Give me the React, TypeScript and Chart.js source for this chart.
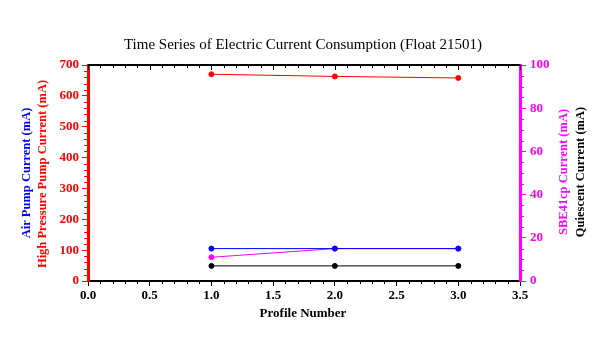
import React, { useEffect, useRef } from "react";
import { Chart, registerables } from "chart.js";
Chart.register(...registerables);

const profiles = [1, 2, 3];
const highPressurePump = [670, 663, 658];
const airPump = [105, 105, 105];
const sbe41cp = [11, 15, 15];
const quiescent = [7, 7, 7];

const FONT = "'Liberation Serif', 'DejaVu Serif', serif";

const framePlugin = {
  id: "frame",
  afterDraw(chart: any) {
    const { ctx, chartArea: a, scales } = chart;
    const x = scales.x, yl = scales.y, yr = scales.y2;
    ctx.save();
    ctx.strokeStyle = "#000";
    ctx.lineWidth = 2;
    ctx.beginPath();
    ctx.moveTo(a.left, a.top);
    ctx.lineTo(a.right, a.top);
    ctx.stroke();
    ctx.lineWidth = 1;
    for (let v = 0; v <= 3.5001; v += 0.1) {
      const px = Math.round(x.getPixelForValue(v)) + 0.5;
      const major = Math.abs(v * 2 - Math.round(v * 2)) < 1e-6;
      const len = major ? 5 : 3;
      ctx.beginPath();
      ctx.moveTo(px, a.top);
      ctx.lineTo(px, a.top + len);
      ctx.stroke();
      if (!major) {
        ctx.beginPath();
        ctx.moveTo(px, a.bottom);
        ctx.lineTo(px, a.bottom + 3);
        ctx.stroke();
      }
    }
    ctx.strokeStyle = "#ff0000";
    for (let v = 0; v <= 700; v += 20) {
      if (v % 100 === 0) continue;
      const py = Math.round(yl.getPixelForValue(v)) + 0.5;
      ctx.beginPath();
      ctx.moveTo(a.left - 1, py);
      ctx.lineTo(a.left - 4, py);
      ctx.stroke();
    }
    ctx.strokeStyle = "#ff00ff";
    for (let v = 0; v <= 100; v += 5) {
      if (v % 20 === 0) continue;
      const py = Math.round(yr.getPixelForValue(v)) + 0.5;
      ctx.beginPath();
      ctx.moveTo(a.right + 1, py);
      ctx.lineTo(a.right + 4, py);
      ctx.stroke();
    }
    ctx.fillStyle = "#000";
    ctx.textAlign = "center";
    ctx.textBaseline = "middle";
    ctx.font = `15px ${FONT}`;
    ctx.fillText("Time Series of Electric Current Consumption (Float 21501)", 303, 45);
    ctx.font = `bold 13px ${FONT}`;
    ctx.fillText("Profile Number", 303, 314);
    ctx.font = `bold 12.5px ${FONT}`;
    const vlabel = (t: string, cx: number, cy: number, color: string) => {
      ctx.save();
      ctx.translate(cx, cy);
      ctx.rotate(-Math.PI / 2);
      ctx.fillStyle = color;
      ctx.fillText(t, 0, 0);
      ctx.restore();
    };
    vlabel("Air Pump Current (mA)", 27, 173, "#0000ff");
    vlabel("High Pressure Pump Current (mA)", 43, 174, "#ff0000");
    vlabel("SBE41cp Current (mA)", 564, 172, "#ff00ff");
    vlabel("Quiescent Current (mA)", 581, 172, "#000000");
    ctx.restore();
  },
};

export default function App() {
  const ref = useRef<HTMLCanvasElement>(null);
  useEffect(() => {
    document.body.style.margin = "0";
    const mk = (data: number[], color: string, axis: string) => ({
      data: profiles.map((p, i) => ({ x: p, y: data[i] })),
      borderColor: color,
      backgroundColor: color,
      borderWidth: 1,
      pointRadius: 2.5,
      pointHoverRadius: 2.5,
      yAxisID: axis,
    });
    const chart = new Chart(ref.current!, {
      type: "line",
      data: {
        datasets: [
          mk(highPressurePump, "#ff0000", "y"),
          mk(airPump, "#0000ff", "y"),
          mk(sbe41cp, "#ff00ff", "y2"),
          mk(quiescent, "#000000", "y2"),
        ],
      },
      plugins: [framePlugin],
      options: {
        animation: false,
        responsive: false,
        events: [],
        layout: { padding: { top: 65, left: 0, right: 0, bottom: 0 } },
        plugins: { legend: { display: false }, tooltip: { enabled: false } },
        scales: {
          x: {
            type: "linear",
            min: 0,
            max: 3.5,
            position: "bottom",
            afterFit: (s: any) => { s.height = 57; },
            ticks: {
              stepSize: 0.5,
              color: "#000",
              font: { family: FONT, size: 13, weight: "bold" },
              padding: 2,
              maxRotation: 0,
              callback: (v: any) => Number(v).toFixed(1),
            },
            grid: { drawOnChartArea: false, drawTicks: true, tickLength: 5, color: "#000", lineWidth: 1 },
            border: { color: "#000", width: 2 },
          },
          y: {
            type: "linear",
            min: 0,
            max: 700,
            position: "left",
            afterFit: (s: any) => { s.width = 88; },
            ticks: {
              stepSize: 100,
              color: "#ff0000",
              font: { family: FONT, size: 13, weight: "bold" },
              padding: 3,
            },
            grid: { drawOnChartArea: false, drawTicks: true, tickLength: 6, color: "#ff0000", lineWidth: 1 },
            border: { color: "#ff0000", width: 3 },
          },
          y2: {
            type: "linear",
            min: 0,
            max: 100,
            position: "right",
            afterFit: (s: any) => { s.width = 84; },
            ticks: {
              stepSize: 20,
              color: "#ff00ff",
              font: { family: FONT, size: 13, weight: "bold" },
              padding: 4,
            },
            grid: { drawOnChartArea: false, drawTicks: true, tickLength: 6, color: "#ff00ff", lineWidth: 1 },
            border: { color: "#ff00ff", width: 3 },
          },
        },
      },
    } as any);
    return () => chart.destroy();
  }, []);
  return (
    <div style={{ position: "absolute", left: 0, top: 0, width: 604, height: 338, background: "#fff" }}>
      <canvas ref={ref} width={604} height={338} style={{ width: 604, height: 338 }} />
    </div>
  );
}
